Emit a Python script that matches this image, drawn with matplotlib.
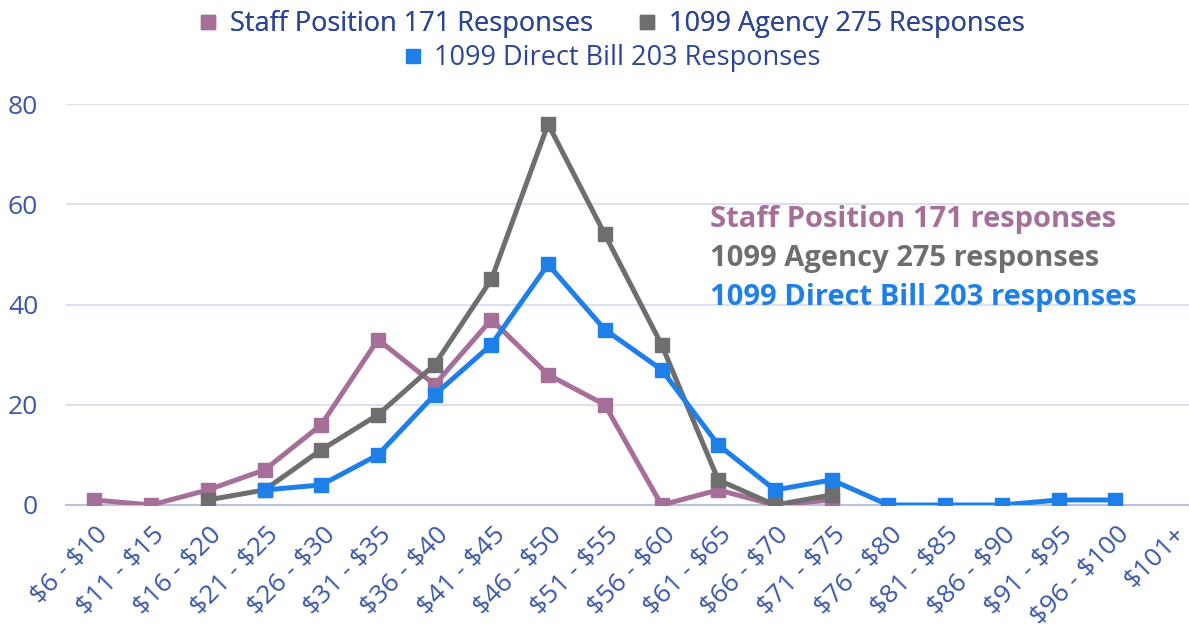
import matplotlib
matplotlib.use("Agg")
import matplotlib.pyplot as plt
import matplotlib.transforms as mtransforms
from matplotlib.lines import Line2D

plt.rcParams["font.family"] = ["Open Sans", "DejaVu Sans"]

# price bands and response counts per band
bands = ["$6 - $10", "$11 - $15", "$16 - $20", "$21 - $25", "$26 - $30", "$31 - $35",
         "$36 - $40", "$41 - $45", "$46 - $50", "$51 - $55", "$56 - $60", "$61 - $65",
         "$66 - $70", "$71 - $75", "$76 - $80", "$81 - $85", "$86 - $90", "$91 - $95",
         "$96 - $100", "$101+"]
staff = [1, 0, 3, 7, 16, 33, 24, 37, 26, 20, 0, 3, 0, 1]          # starts at $6-$10
agency = [1, 3, 11, 18, 28, 45, 76, 54, 32, 5, 0, 2]               # starts at $16-$20
direct = [3, 4, 10, 22, 32, 48, 35, 27, 12, 3, 5, 0, 0, 0, 1, 1]   # starts at $21-$25
staff_start, agency_start, direct_start = 0, 2, 3
yticks = [0, 20, 40, 60, 80]

C_STAFF, C_AGENCY, C_DIRECT = "#a66f9a", "#6e6e6e", "#1f7fe9"
C_TICK, C_LEG = "#3b57a6", "#2c4596"

fig = plt.figure(figsize=(11.89, 6.32), dpi=100)
ax = fig.add_axes([66 / 1189, 1 - 505 / 632, 1 - 66 / 1189, (505 - 104) / 632])

series = [
    (staff, staff_start, C_STAFF, "Staff Position 171 Responses"),
    (agency, agency_start, C_AGENCY, "1099 Agency 275 Responses"),
    (direct, direct_start, C_DIRECT, "1099 Direct Bill 203 Responses"),
]
for vals, start, col, lab in series:
    xs = list(range(start, start + len(vals)))
    ax.plot(xs, vals, color=col, lw=3.6, marker="s", ms=10, mec=col, mfc=col,
            solid_joinstyle="miter", label=lab, zorder=3)

ax.set_xlim(-0.5, 19.3)
ax.set_ylim(0, 80)
ax.set_yticks(yticks)
ax.grid(axis="y", color="#d6dcef", lw=1.2)
ax.set_axisbelow(True)
for s in ["top", "right", "left"]:
    ax.spines[s].set_visible(False)
ax.spines["bottom"].set_color("#b8c3e2")
ax.spines["bottom"].set_linewidth(1.5)
ax.tick_params(axis="y", length=0, pad=20, labelsize=19, labelcolor=C_TICK)
ax.tick_params(axis="x", length=0, labelsize=19, labelcolor=C_TICK)
ax.set_xticks(range(len(bands)))
ax.set_xticklabels([b.replace("$", r"\$") for b in bands], rotation=45, ha="right",
                   va="center", rotation_mode="anchor")
offset = mtransforms.ScaledTranslation(10 / 100, -21 / 100, fig.dpi_scale_trans)
for t in ax.get_xticklabels():
    t.set_transform(t.get_transform() + offset)

# bold annotation block inside the plot
ax.text(10.85, 57, "Staff Position 171 responses", color=C_STAFF, fontsize=21,
        fontweight="bold", ha="left", va="center")
ax.text(10.85, 49.2, "1099 Agency 275 responses", color=C_AGENCY, fontsize=21,
        fontweight="bold", ha="left", va="center")
ax.text(10.85, 41.3, "1099 Direct Bill 203 responses", color=C_DIRECT, fontsize=21,
        fontweight="bold", ha="left", va="center")

# legend: two items on the first row, one centred on the second
h = [Line2D([], [], marker="s", ls="", color=c, ms=10) for _, _, c, _ in series]
labs = [lab for _, _, _, lab in series]
leg1 = fig.legend(h[:2], labs[:2], ncol=2, loc="center", bbox_to_anchor=(0.513, 1 - 24 / 632),
                  frameon=False, fontsize=19.5, handletextpad=0.3, columnspacing=1.5,
                  labelcolor=C_LEG, handlelength=1.0)
leg2 = fig.legend(h[2:], labs[2:], loc="center", bbox_to_anchor=(0.513, 1 - 58 / 632),
                  frameon=False, fontsize=19.5, handletextpad=0.3, labelcolor=C_LEG,
                  handlelength=1.0)
fig.add_artist(leg1)

fig.savefig("out.png", dpi=100)
